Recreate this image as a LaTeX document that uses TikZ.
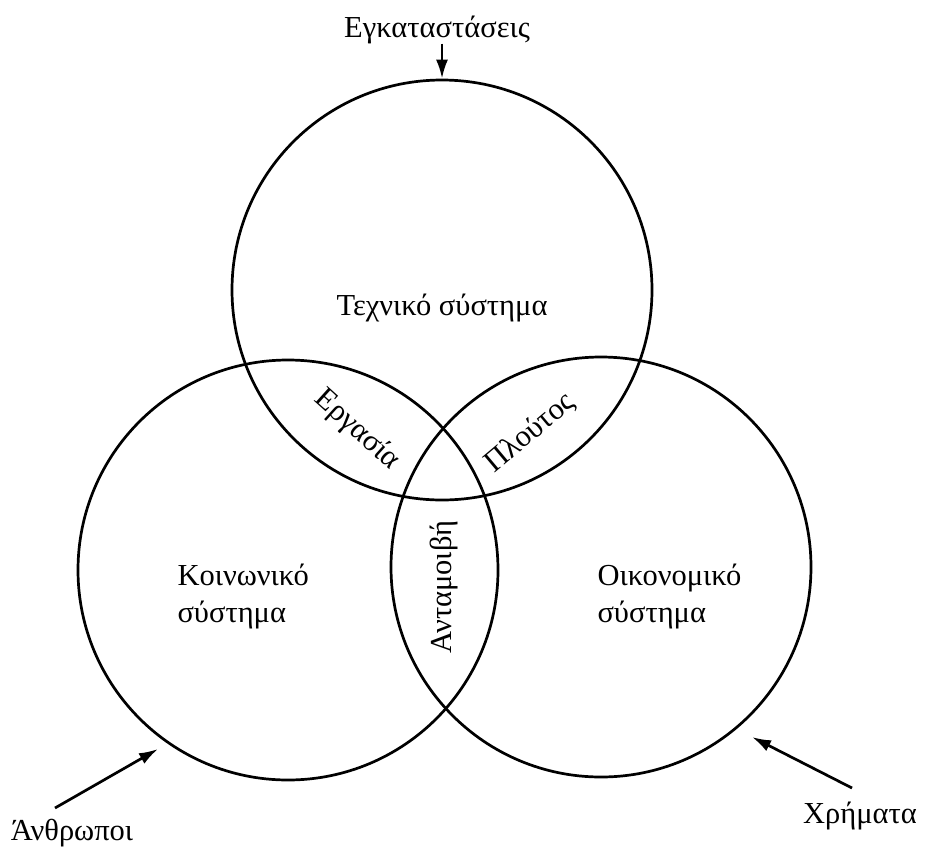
\documentclass[tikz,border=0pt]{standalone}
\usepackage{fontspec}
\setmainfont{Liberation Serif}
\usetikzlibrary{arrows.meta}

\begin{document}
\begin{tikzpicture}[x=1pt,y=-1pt,
  ring/.style={circle,draw,line width=2.7pt,minimum size=420pt,inner sep=0pt},
  txt/.style={font=\fontsize{30.5}{37}\selectfont},
  arr/.style={line width=2.7pt,-{Latex[length=19pt,width=12pt]}}]

\useasboundingbox (0,0) rectangle (925,846);

\node[ring] (tech) at (442,290) {};
\node[ring] (social) at (288,570) {};
\node[ring] (econ) at (601,567) {};

\node[txt,anchor=base] (techlbl) at (442,315) {Τεχνικό σύστημα};
\node[txt,align=left,anchor=base west] (sociallbl) at (174,622) {Κοινωνικό\\σύστημα};
\node[txt,align=left,anchor=base west] (econlbl) at (594,622) {Οικονομικό\\σύστημα};

\node[txt,rotate=-42] (work) at (357,430) {Εργασία};
\node[txt,rotate=40] (wealth) at (530,433) {Πλούτος};
\node[txt,rotate=90] (reward) at (444,587) {Ανταμοιβή};

\node[txt,anchor=base,inner sep=0pt] (inst) at (437,37) {Εγκαταστάσεις};
\draw[arr] (inst.south -| tech.north) -- (tech.north);

\node[txt,anchor=base] (people) at (72,840) {Άνθρωποι};
\coordinate (peopleFrom) at (55,808);
\coordinate (peopleTo) at (158,749);
\draw[arr] (peopleFrom) -- (peopleTo);

\node[txt,anchor=base] (money) at (860,823) {Χρήματα};
\coordinate (moneyFrom) at (852,788);
\coordinate (moneyTo) at (752,737);
\draw[arr] (moneyFrom) -- (moneyTo);

\end{tikzpicture}
\end{document}
